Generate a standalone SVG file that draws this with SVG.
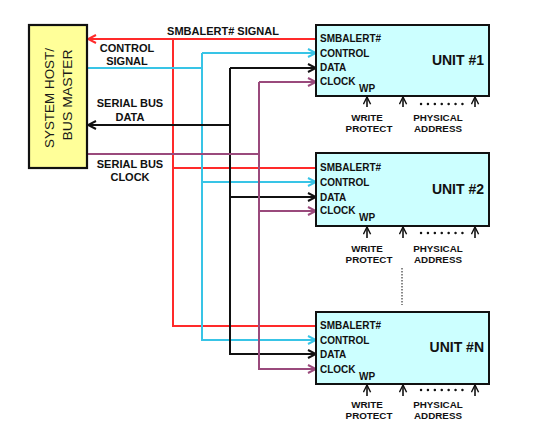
<svg xmlns="http://www.w3.org/2000/svg" width="555" height="440" viewBox="0 0 555 440">
<style>
text{font-family:"Liberation Sans",Arial,sans-serif;font-weight:bold;fill:#111}
.pin{font-size:10px}
.lbl{font-size:11px;text-anchor:middle}
.sm{font-size:9.8px;text-anchor:middle}
.title{font-size:14px;text-anchor:end}
.host{font-size:12.5px;font-weight:normal;text-anchor:middle;fill:#1a1a1a}
.unit{fill:#ccffff;stroke:#111;stroke-width:2}
.w{fill:none;stroke-width:2}
.r{stroke:#ff2a2a}.c{stroke:#38c4e6}.k{stroke:#111}.p{stroke:#9a4a7c}
.dots{stroke:#111;stroke-width:2.4;stroke-dasharray:0.1 6.8;stroke-linecap:round;fill:none}
.up{stroke:#111;stroke-width:1.6;fill:none}
</style>
<defs>
<marker id="ar" markerUnits="userSpaceOnUse" viewBox="0 0 10 10" markerWidth="10" markerHeight="10" refX="9" refY="5" orient="auto"><path d="M1,1 L9,5 L1,9" fill="none" stroke="#ff2a2a" stroke-width="2"/></marker>
<marker id="ac" markerUnits="userSpaceOnUse" viewBox="0 0 10 10" markerWidth="10" markerHeight="10" refX="9" refY="5" orient="auto"><path d="M1,1 L9,5 L1,9" fill="none" stroke="#38c4e6" stroke-width="2"/></marker>
<marker id="ak" markerUnits="userSpaceOnUse" viewBox="0 0 10 10" markerWidth="10" markerHeight="10" refX="9" refY="5" orient="auto"><path d="M1,1 L9,5 L1,9" fill="none" stroke="#111" stroke-width="2"/></marker>
<marker id="ap" markerUnits="userSpaceOnUse" viewBox="0 0 10 10" markerWidth="10" markerHeight="10" refX="9" refY="5" orient="auto"><path d="M1,1 L9,5 L1,9" fill="none" stroke="#9a4a7c" stroke-width="2"/></marker>
<marker id="au" markerUnits="userSpaceOnUse" viewBox="0 0 10 10" markerWidth="9" markerHeight="9" refX="9" refY="5" orient="auto"><path d="M1,1 L9,5 L1,9" fill="none" stroke="#111" stroke-width="1.6"/></marker>
</defs>
<rect width="555" height="440" fill="#fff"/>

<g id="connectors">
<path class="w r" d="M316,39 H88" marker-end="url(#ar)"/>
<path class="w r" d="M173,39 V326 H316"/>
<path class="w r" d="M173,168 H316"/>
<path class="w c" d="M87,68 H202"/>
<path class="w c" d="M202,53 H316" marker-end="url(#ac)"/>
<path class="w c" d="M202,53 V340 H316" marker-end="url(#ac)"/>
<path class="w c" d="M202,182 H316" marker-end="url(#ac)"/>
<path class="w k" d="M230,125 H88" marker-end="url(#ak)"/>
<path class="w k" d="M230,68 H316" marker-end="url(#ak)"/>
<path class="w k" d="M230,68 V354 H316" marker-end="url(#ak)"/>
<path class="w k" d="M230,197 H316" marker-end="url(#ak)"/>
<path class="w p" d="M87,154 H259"/>
<path class="w p" d="M259,82 H316" marker-end="url(#ap)"/>
<path class="w p" d="M259,82 V369 H316" marker-end="url(#ap)"/>
<path class="w p" d="M259,211 H316" marker-end="url(#ap)"/>
<path d="M402,268 V305" stroke="#111" stroke-width="1" stroke-dasharray="1.5 1.5" fill="none"/>
</g>

<g id="host">
<rect x="29" y="25" width="58" height="143" fill="#ffff99" stroke="#111" stroke-width="2.2"/>
<text class="host" transform="translate(54,98) rotate(-90)" textLength="100" lengthAdjust="spacingAndGlyphs">SYSTEM HOST/</text>
<text class="host" transform="translate(72,95) rotate(-90)" textLength="91" lengthAdjust="spacingAndGlyphs">BUS MASTER</text>
</g>

<g id="bus-labels">
<text class="lbl" x="223" y="35">SMBALERT# SIGNAL</text>
<text class="lbl" x="127" y="52">CONTROL</text>
<text class="lbl" x="127" y="65">SIGNAL</text>
<text class="lbl" x="130" y="107">SERIAL BUS</text>
<text class="lbl" x="130" y="121">DATA</text>
<text class="lbl" x="130" y="168">SERIAL BUS</text>
<text class="lbl" x="130" y="181">CLOCK</text>
</g>

<g id="unit1">
<rect class="unit" x="316" y="25" width="173" height="71"/>
<text class="pin" x="320" y="42">SMBALERT#</text>
<text class="pin" x="320" y="57">CONTROL</text>
<text class="pin" x="320" y="71">DATA</text>
<text class="pin" x="320" y="85">CLOCK</text>
<text class="pin" x="359" y="92">WP</text>
<text class="title" x="484" y="65">UNIT #1</text>
<path class="up" d="M367,107 V97" marker-end="url(#au)"/>
<path class="up" d="M403,107 V97" marker-end="url(#au)"/>
<path class="up" d="M475,107 V97" marker-end="url(#au)"/>
<path class="dots" d="M421,104 H463"/>
<text class="sm" x="367" y="121">WRITE</text>
<text class="sm" x="369" y="132">PROTECT</text>
<text class="sm" x="438" y="121">PHYSICAL</text>
<text class="sm" x="438" y="132">ADDRESS</text>
</g>

<g id="unit2">
<rect class="unit" x="316" y="153" width="173" height="73"/>
<text class="pin" x="320" y="171">SMBALERT#</text>
<text class="pin" x="320" y="186">CONTROL</text>
<text class="pin" x="320" y="201">DATA</text>
<text class="pin" x="320" y="214">CLOCK</text>
<text class="pin" x="359" y="221">WP</text>
<text class="title" x="484" y="194">UNIT #2</text>
<path class="up" d="M367,238 V227" marker-end="url(#au)"/>
<path class="up" d="M403,238 V227" marker-end="url(#au)"/>
<path class="up" d="M475,238 V227" marker-end="url(#au)"/>
<path class="dots" d="M421,233 H463"/>
<text class="sm" x="367" y="252">WRITE</text>
<text class="sm" x="369" y="263">PROTECT</text>
<text class="sm" x="438" y="252">PHYSICAL</text>
<text class="sm" x="438" y="263">ADDRESS</text>
</g>

<g id="unitN">
<rect class="unit" x="316" y="312" width="173" height="72"/>
<text class="pin" x="320" y="329">SMBALERT#</text>
<text class="pin" x="320" y="344">CONTROL</text>
<text class="pin" x="320" y="358">DATA</text>
<text class="pin" x="320" y="373">CLOCK</text>
<text class="pin" x="359" y="380">WP</text>
<text class="title" x="484" y="352">UNIT #N</text>
<path class="up" d="M367,396 V385" marker-end="url(#au)"/>
<path class="up" d="M403,396 V385" marker-end="url(#au)"/>
<path class="up" d="M475,396 V385" marker-end="url(#au)"/>
<path class="dots" d="M421,390 H463"/>
<text class="sm" x="367" y="408">WRITE</text>
<text class="sm" x="369" y="419">PROTECT</text>
<text class="sm" x="438" y="408">PHYSICAL</text>
<text class="sm" x="438" y="419">ADDRESS</text>
</g>
</svg>
